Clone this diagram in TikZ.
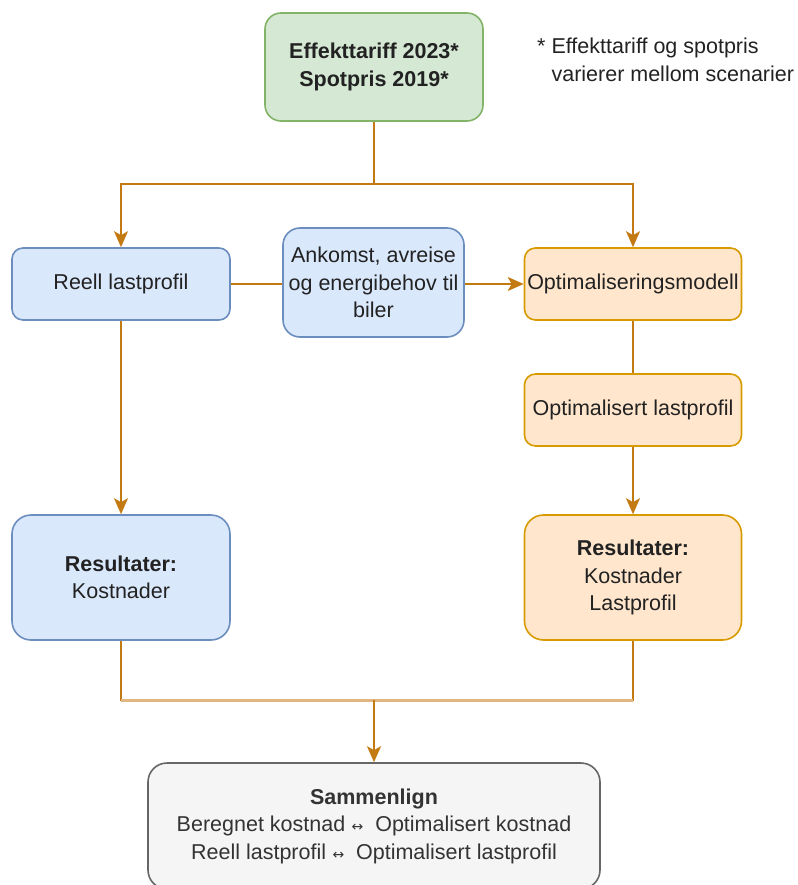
\documentclass[tikz,border=0pt]{standalone}
\usepackage{fontspec}
\setmainfont{Liberation Sans}
\newfontfamily\symfont{DejaVu Sans}
\usetikzlibrary{arrows.meta}
\definecolor{greenfill}{HTML}{D5E8D4}
\definecolor{greenline}{HTML}{82B366}
\definecolor{bluefill}{HTML}{DAE8FC}
\definecolor{blueline}{HTML}{6C8EBF}
\definecolor{orangefill}{HTML}{FFE6CC}
\definecolor{orangeline}{HTML}{D79B00}
\definecolor{grayfill}{HTML}{F5F5F5}
\definecolor{grayline}{HTML}{666666}
\definecolor{flow}{HTML}{C47A12}
\definecolor{flowlight}{HTML}{E2B680}
\definecolor{txt}{HTML}{222222}
\newcommand{\twoway}{\hspace{0.3em}{\symfont\fontsize{14}{27}\selectfont ↔}\hspace{0.55em}}
\begin{document}
\begin{tikzpicture}[x=1pt,y=-1pt,
  box/.style={draw, line width=1.6pt, align=center, text=txt, inner sep=0pt,
    font=\fontsize{21.5}{27.5}\selectfont},
  greenbox/.style={box, fill=greenfill, draw=greenline},
  bluebox/.style={box, fill=bluefill, draw=blueline},
  orangebox/.style={box, fill=orangefill, draw=orangeline},
  graybox/.style={box, fill=grayfill, draw=grayline, text={rgb,255:red,51;green,51;blue,51}},
  flowline/.style={draw=flow, line width=2pt},
  flowarrow/.style={flowline, -{Stealth[length=16pt,width=14pt,inset=4pt]}},
]
\useasboundingbox (0,0) rectangle (797,885);
\begin{scope}
\clip (0,0) rectangle (797,885);

% input box
\node[greenbox, rounded corners=16pt, minimum width=218pt, minimum height=108pt]
  (tariff) at (374,67) {\textbf{Effekttariff 2023*}\\\textbf{Spotpris 2019*}};

% footnote
\node[anchor=north west, align=left, text=txt, inner sep=0pt,
  font=\fontsize{21.5}{27.5}\selectfont] (note) at (537,38)
  {* Effekttariff og spotpris\\\phantom{*~}varierer mellom scenarier};

% middle row
\node[bluebox, rounded corners=11pt, minimum width=218pt, minimum height=72pt]
  (reell) at (121,284) {Reell lastprofil};
\node[bluebox, rounded corners=17pt, minimum width=181pt, minimum height=109pt]
  (ankomst) at (373.5,282.5) {Ankomst, avreise\\og energibehov til\\biler};
\node[orangebox, rounded corners=11pt, minimum width=217pt, minimum height=72pt]
  (optmod) at (633,284) {Optimaliseringsmodell};
\node[orangebox, rounded corners=11pt, minimum width=217pt, minimum height=72pt]
  (optlast) at (633,410) {Optimalisert lastprofil};

% results
\node[bluebox, rounded corners=19pt, minimum width=218pt, minimum height=125pt]
  (resL) at (121,577.5) {\textbf{Resultater:}\\Kostnader};
\node[orangebox, rounded corners=19pt, minimum width=217pt, minimum height=125pt]
  (resR) at (633,577.5) {\textbf{Resultater:}\\Kostnader\\Lastprofil};

% comparison
\node[graybox, rounded corners=19pt, minimum width=452pt, minimum height=126pt]
  (cmp) at (374,826)
  {\textbf{Sammenlign}\\Beregnet kostnad\twoway Optimalisert kostnad\\Reell lastprofil\twoway Optimalisert lastprofil};

% junction points
\coordinate (split) at (374,184);
\coordinate (merge) at (374,700);

% connectors
\draw[flowline] (tariff.south) -- (split);
\draw[flowarrow] (split) -| (reell.north);
\draw[flowarrow] (split) -| (optmod.north);
\draw[flowline] (reell.east) -- (reell.east -| ankomst.west);
\draw[flowarrow] (optmod.west -| ankomst.east) -- (optmod.west);
\draw[flowline] (optmod.south) -- (optlast.north);
\draw[flowarrow] (optlast.south) -- (resR.north);
\draw[flowarrow] (reell.south) -- (resL.north);
\draw[flowline] (resL.south) |- (merge);
\draw[flowline] (resR.south) |- (merge);
\draw[draw=flowlight, line width=3pt] (resL.south |- merge) -- (resR.south |- merge);
\draw[flowarrow] (merge) -- (cmp.north);
\end{scope}
\end{tikzpicture}
\end{document}
